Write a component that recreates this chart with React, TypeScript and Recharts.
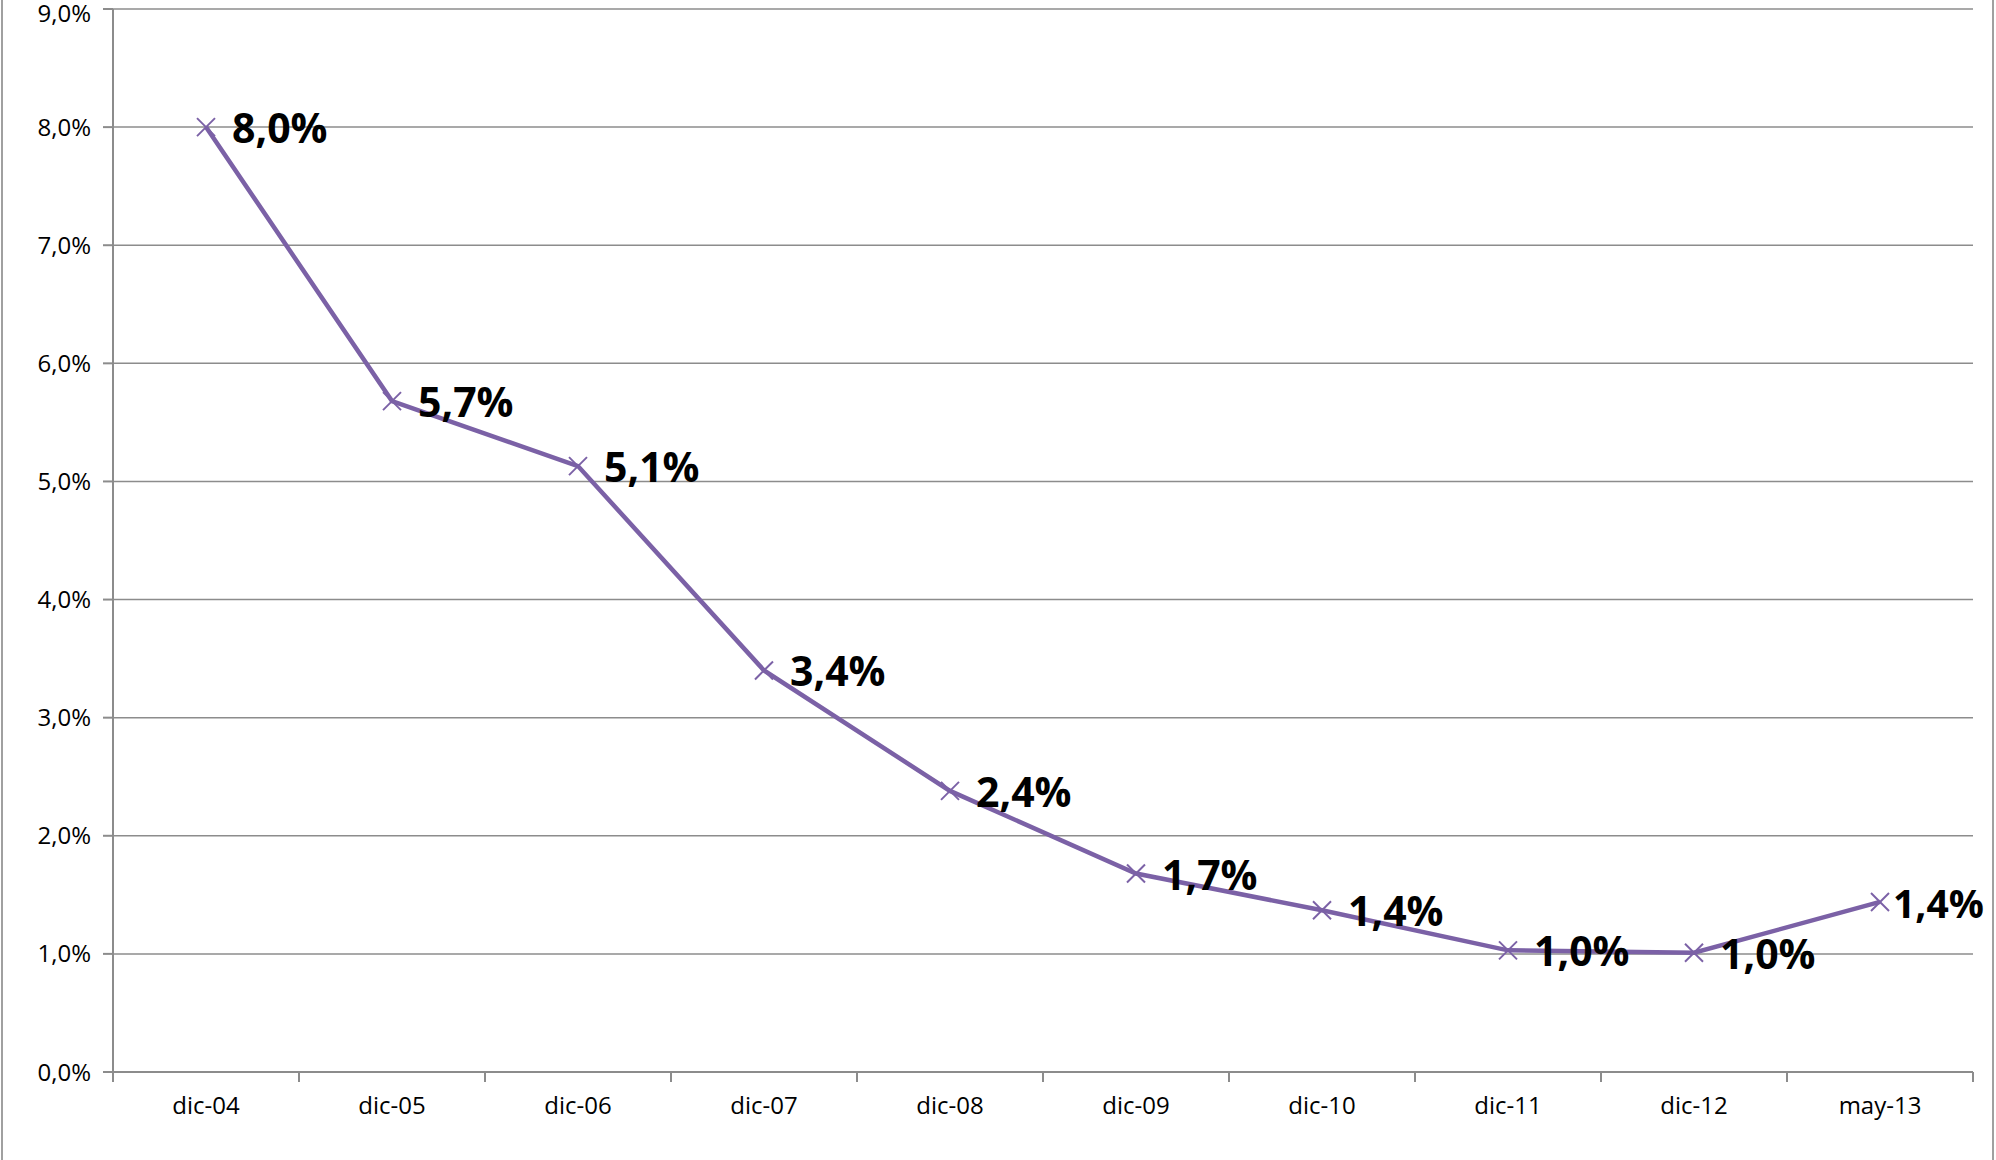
import React from 'react';
import { LineChart, Line, XAxis, YAxis, CartesianGrid, LabelList } from 'recharts';

const categories = ['dic-04','dic-05','dic-06','dic-07','dic-08','dic-09','dic-10','dic-11','dic-12','may-13'];
const values = [8.0, 5.68, 5.13, 3.4, 2.38, 1.68, 1.37, 1.03, 1.01, 1.44];
const labels = ['8,0%','5,7%','5,1%','3,4%','2,4%','1,7%','1,4%','1,0%','1,0%','1,4%'];
const yTicks = [0,1,2,3,4,5,6,7,8,9];

const data = categories.map((c, i) => ({ name: c, v: values[i], label: labels[i] }));
const COLOR = '#7B61A6';
const FONT = '"Open Sans", Calibri, sans-serif';
const BAND = 186;

const XDot = (p: any) => {
  const { cx, cy } = p;
  if (cx == null || cy == null) return null;
  const s = 9;
  return (
    <g stroke={COLOR} strokeWidth={2}>
      <line x1={cx - s} y1={cy - s} x2={cx + s} y2={cy + s} />
      <line x1={cx - s} y1={cy + s} x2={cx + s} y2={cy - s} />
    </g>
  );
};

const XTick = (p: any) => {
  const { x, y, payload, index } = p;
  const last = index === categories.length - 1;
  return (
    <g>
      <line x1={x - BAND / 2} y1={y - 8} x2={x - BAND / 2} y2={y + 2} stroke="#8C8C8C" strokeWidth={2} />
      {last && <line x1={x + BAND / 2} y1={y - 8} x2={x + BAND / 2} y2={y + 2} stroke="#8C8C8C" strokeWidth={2} />}
      <text x={x} y={y + 34} textAnchor="middle" fontFamily={FONT} fontSize={24} fill="#000">{payload.value}</text>
    </g>
  );
};

const Lbl = (p: any) => {
  const { x, y, value, index } = p;
  const last = index === categories.length - 1;
  return (
    <text x={x + (last ? 13 : 26)} y={y + 16} fontFamily={FONT} fontWeight={700} fontSize={last ? 39 : 41} fill="#000">
      {value}
    </text>
  );
};

export default function App() {
  return (
    <div style={{ position: 'absolute', left: 0, top: 0, width: 1996, height: 1160, background: '#fff' }}>
      <div style={{ position: 'absolute', left: 1, top: 0, width: 1993, height: 1160, borderLeft: '2px solid #A0A0A0', borderRight: '2px solid #A0A0A0', boxSizing: 'border-box' }} />
      <LineChart width={1996} height={1160} data={data} margin={{ top: 9, right: 23, bottom: 28, left: 13 }}>
        <CartesianGrid vertical={false} stroke="#8C8C8C" strokeWidth={1.5} />
        <XAxis dataKey="name" height={60} stroke="#8C8C8C" strokeWidth={2} tickLine={false}
          padding={{ left: BAND / 2, right: BAND / 2 }} tick={<XTick />} interval={0} />
        <YAxis domain={[0, 9]} ticks={yTicks} width={100} stroke="#8C8C8C" strokeWidth={2} tickSize={10}
          tickMargin={12}
          tickFormatter={(v: number) => v.toFixed(1).replace('.', ',') + '%'}
          tick={{ fill: '#000', fontSize: 24, fontFamily: FONT }} />
        <Line dataKey="v" stroke={COLOR} strokeWidth={4.5} dot={<XDot />} isAnimationActive={false}>
          <LabelList dataKey="label" content={<Lbl />} />
        </Line>
      </LineChart>
    </div>
  );
}
